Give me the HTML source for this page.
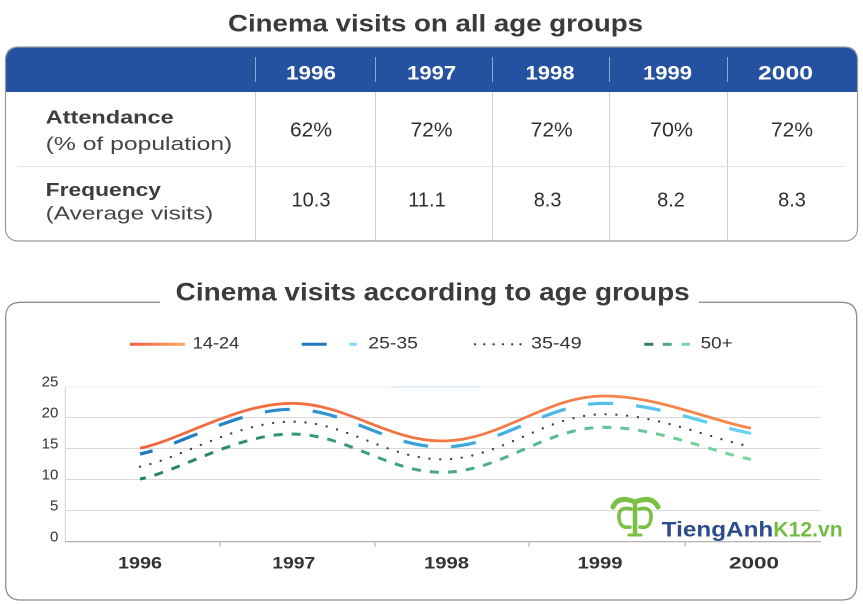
<!DOCTYPE html>
<html>
<head>
<meta charset="utf-8">
<style>
  html,body{margin:0;padding:0;background:#fff;}
  svg{display:block;}
  text{font-family:"Liberation Sans",Arial,sans-serif;}
</style>
</head>
<body>
<svg width="863" height="604" viewBox="0 0 863 604" xmlns="http://www.w3.org/2000/svg">
  <defs>
    <linearGradient id="gOr" gradientUnits="userSpaceOnUse" x1="140" y1="0" x2="751" y2="0">
      <stop offset="0" stop-color="#f2653f"/>
      <stop offset="1" stop-color="#f68a4b"/>
    </linearGradient>
    <linearGradient id="gBl" gradientUnits="userSpaceOnUse" x1="140" y1="0" x2="751" y2="0">
      <stop offset="0" stop-color="#1b76bd"/>
      <stop offset="0.5" stop-color="#3ca6df"/>
      <stop offset="1" stop-color="#66d3f3"/>
    </linearGradient>
    <linearGradient id="gGr" gradientUnits="userSpaceOnUse" x1="140" y1="0" x2="751" y2="0">
      <stop offset="0" stop-color="#22806a"/>
      <stop offset="0.5" stop-color="#44a984"/>
      <stop offset="1" stop-color="#7cd9a1"/>
    </linearGradient>
    <linearGradient id="gLegOr" gradientUnits="userSpaceOnUse" x1="130" y1="0" x2="185" y2="0">
      <stop offset="0" stop-color="#f05d46"/>
      <stop offset="1" stop-color="#f9aa5c"/>
    </linearGradient>
  </defs>

  <!-- Top title -->
  <text x="228" y="31.5" font-size="24" font-weight="bold" fill="#3a3a3a" textLength="415" lengthAdjust="spacingAndGlyphs">Cinema visits on all age groups</text>

  <!-- Table -->
  <path d="M5.5,92 L5.5,59 Q5.5,47 17.5,47 L845.5,47 Q857.5,47 857.5,59 L857.5,92 Z" fill="#2552a0"/>
  <g stroke="#8ea7d4" stroke-width="1">
    <line x1="255.5" y1="57" x2="255.5" y2="82"/>
    <line x1="375.5" y1="57" x2="375.5" y2="82"/>
    <line x1="492.5" y1="57" x2="492.5" y2="82"/>
    <line x1="609.5" y1="57" x2="609.5" y2="82"/>
    <line x1="727.5" y1="57" x2="727.5" y2="82"/>
  </g>
  <g stroke="#cfcfcf" stroke-width="1">
    <line x1="255.5" y1="92" x2="255.5" y2="241"/>
    <line x1="375.5" y1="92" x2="375.5" y2="241"/>
    <line x1="492.5" y1="92" x2="492.5" y2="241"/>
    <line x1="609.5" y1="92" x2="609.5" y2="241"/>
    <line x1="727.5" y1="92" x2="727.5" y2="241"/>
  </g>
  <line x1="18" y1="166.5" x2="845" y2="166.5" stroke="#e4e4e4" stroke-width="1"/>
  <rect x="5.5" y="47" width="852" height="194" rx="12" ry="12" fill="none" stroke="#9a9a9a" stroke-width="1.2"/>

  <g font-size="19" font-weight="bold" fill="#ffffff" text-anchor="middle">
    <text x="311" y="79.3" textLength="50" lengthAdjust="spacingAndGlyphs">1996</text>
    <text x="431.6" y="79.3" textLength="49" lengthAdjust="spacingAndGlyphs">1997</text>
    <text x="550" y="79.3" textLength="49" lengthAdjust="spacingAndGlyphs">1998</text>
    <text x="667.5" y="79.3" textLength="49" lengthAdjust="spacingAndGlyphs">1999</text>
    <text x="785.5" y="79.3" textLength="55" lengthAdjust="spacingAndGlyphs">2000</text>
  </g>

  <g fill="#3d3d3d">
    <text x="45.7" y="123.3" font-size="18" font-weight="bold" textLength="128" lengthAdjust="spacingAndGlyphs">Attendance</text>
    <text x="45.7" y="150" font-size="18" fill="#444" textLength="186.6" lengthAdjust="spacingAndGlyphs">(% of population)</text>
    <text x="45.7" y="196" font-size="18" font-weight="bold" textLength="115.3" lengthAdjust="spacingAndGlyphs">Frequency</text>
    <text x="45.7" y="219.5" font-size="18" fill="#444" textLength="167.6" lengthAdjust="spacingAndGlyphs">(Average visits)</text>
  </g>

  <g font-size="20" fill="#2f2f2f" text-anchor="middle">
    <text x="311" y="136.7" textLength="42" lengthAdjust="spacingAndGlyphs">62%</text>
    <text x="431.5" y="136.7" textLength="42" lengthAdjust="spacingAndGlyphs">72%</text>
    <text x="551.7" y="136.7" textLength="42" lengthAdjust="spacingAndGlyphs">72%</text>
    <text x="671.5" y="136.7" textLength="43" lengthAdjust="spacingAndGlyphs">70%</text>
    <text x="792" y="136.7" textLength="42" lengthAdjust="spacingAndGlyphs">72%</text>

    <text x="311" y="206.7">10.3</text>
    <text x="427" y="206.7">11.1</text>
    <text x="547.6" y="206.7">8.3</text>
    <text x="671" y="206.7">8.2</text>
    <text x="792" y="206.7">8.3</text>
  </g>

  <!-- Chart box -->
  <path d="M160,302.3 L20.7,302.3 Q5.7,302.3 5.7,317.3 L5.7,585 Q5.7,600 20.7,600 L841.7,600 Q856.7,600 856.7,585 L856.7,317.3 Q856.7,302.3 841.7,302.3 L699,302.3" fill="none" stroke="#8e8e8e" stroke-width="1.3"/>
  <text x="175.7" y="300.7" font-size="25" font-weight="bold" fill="#3b3b3b" textLength="514" lengthAdjust="spacingAndGlyphs">Cinema visits according to age groups</text>

  <!-- Legend -->
  <line x1="130" y1="344.3" x2="185" y2="344.3" stroke="url(#gLegOr)" stroke-width="3"/>
  <line x1="301.7" y1="344.3" x2="326.7" y2="344.3" stroke="#1f78bb" stroke-width="3"/>
  <line x1="349.3" y1="344.3" x2="356.7" y2="344.3" stroke="#7ed8f5" stroke-width="3"/>
  <g fill="#444">
    <circle cx="475" cy="344.3" r="1.2"/>
    <circle cx="484.3" cy="344.3" r="1.2"/>
    <circle cx="493.6" cy="344.3" r="1.2"/>
    <circle cx="502.9" cy="344.3" r="1.2"/>
    <circle cx="512.2" cy="344.3" r="1.2"/>
    <circle cx="520.5" cy="344.3" r="1.2"/>
  </g>
  <line x1="644.3" y1="344.3" x2="653.3" y2="344.3" stroke="#2f7d6a" stroke-width="3"/>
  <line x1="662.7" y1="344.3" x2="671.7" y2="344.3" stroke="#4aa882" stroke-width="3"/>
  <line x1="681.7" y1="344.3" x2="690" y2="344.3" stroke="#7cd8a0" stroke-width="3"/>
  <g font-size="17" fill="#333">
    <text x="192.7" y="348.3" textLength="46.6" lengthAdjust="spacingAndGlyphs">14-24</text>
    <text x="368.3" y="348.3" textLength="49.7" lengthAdjust="spacingAndGlyphs">25-35</text>
    <text x="531" y="348.3" textLength="50.7" lengthAdjust="spacingAndGlyphs">35-49</text>
    <text x="700.7" y="348.3" textLength="32" lengthAdjust="spacingAndGlyphs">50+</text>
  </g>

  <!-- Grid -->
  <line x1="65" y1="386.7" x2="821" y2="386.7" stroke="#efefef" stroke-width="1"/>
  <line x1="392" y1="386.7" x2="480" y2="386.7" stroke="#dcecf6" stroke-width="1.5"/>
  <g stroke="#d9d9d9" stroke-width="1">
    <line x1="65" y1="417.5" x2="821" y2="417.5"/>
    <line x1="65" y1="448.5" x2="821" y2="448.5"/>
    <line x1="65" y1="479.5" x2="821" y2="479.5"/>
    <line x1="65" y1="510.5" x2="821" y2="510.5"/>
  </g>
  <line x1="65.3" y1="386.7" x2="65.3" y2="541.7" stroke="#cfcfcf" stroke-width="1"/>
  <line x1="65" y1="541.7" x2="821" y2="541.7" stroke="#a8a8a8" stroke-width="1.2"/>
  <g stroke="#a8a8a8" stroke-width="1">
    <line x1="220" y1="541.7" x2="220" y2="546.7"/>
    <line x1="375" y1="541.7" x2="375" y2="546.7"/>
    <line x1="529" y1="541.7" x2="529" y2="546.7"/>
    <line x1="685" y1="541.7" x2="685" y2="546.7"/>
  </g>

  <g font-size="15" fill="#333" text-anchor="end">
    <text x="58.3" y="386.7">25</text>
    <text x="58.3" y="417.7">20</text>
    <text x="58.3" y="448.7">15</text>
    <text x="58.3" y="479.7">10</text>
    <text x="58.3" y="510.7">5</text>
    <text x="58.3" y="541.7">0</text>
  </g>

  <g font-size="17" font-weight="bold" fill="#333" text-anchor="middle">
    <text x="140" y="568.3" textLength="44" lengthAdjust="spacingAndGlyphs">1996</text>
    <text x="293.8" y="568.3" textLength="43" lengthAdjust="spacingAndGlyphs">1997</text>
    <text x="446.5" y="568.3" textLength="45" lengthAdjust="spacingAndGlyphs">1998</text>
    <text x="600" y="568.3" textLength="45" lengthAdjust="spacingAndGlyphs">1999</text>
    <text x="754" y="568.3" textLength="50" lengthAdjust="spacingAndGlyphs">2000</text>
  </g>

  <!-- Watermark logo -->
  <g fill="none" stroke="#79c043" stroke-linecap="round">
    <path d="M613,507 Q618,495 635,502 Q652,495 658,507" stroke-width="5"/>
    <path d="M635,503 L635,533" stroke-width="4.5"/>
    <path d="M631,509 Q618,506 619,518 Q620,529 630,527" stroke-width="3.5"/>
    <path d="M639,509 Q652,506 651,518 Q650,529 640,527" stroke-width="3.5"/>
    <path d="M629,535 L641,535" stroke-width="3"/>
  </g>
  <text x="661.7" y="536.7" font-size="21" font-weight="bold" fill="#2c4b8c" textLength="111.6" lengthAdjust="spacingAndGlyphs">TiengAnh</text>
  <text x="773.3" y="536.7" font-size="21" font-weight="bold" fill="#74bb44" textLength="69.4" lengthAdjust="spacingAndGlyphs">K12.vn</text>

  <!-- Series -->
  <path d="M140,479 C180,470.9 237,434 292,434 C346.5,434 387.5,472.3 442,472.3 C500.9,472.3 545.1,427.3 604,427.3 C657,427.3 710,451.3 751,459.3"
        fill="none" stroke="url(#gGr)" stroke-width="3" stroke-dasharray="9 9" stroke-dashoffset="3"/>
  <path d="M140,466.7 C180,458.6 237,421.7 292,421.7 C346.5,421.7 387.5,459.3 442,459.3 C500.9,459.3 545.1,414.3 604,414.3 C657,414.3 710,438.6 751,446.7"
        fill="none" stroke="#454545" stroke-width="2.4" stroke-linecap="round" stroke-dasharray="0 10.8"/>
  <path d="M140,454 C180,446 237,409.3 292,409.3 C346.5,409.3 387.5,447 442,447 C500.9,447 545.1,403.3 604,403.3 C657,403.3 710,425.8 751,433.3"
        fill="none" stroke="url(#gBl)" stroke-width="3.2" stroke-dasharray="25 23" stroke-dashoffset="12"/>
  <path d="M140,448.3 C180,440.2 237,403.3 292,403.3 C346.5,403.3 387.5,441 442,441 C500.9,441 545.1,396 604,396 C657,396 710,420.2 751,428.3"
        fill="none" stroke="url(#gOr)" stroke-width="2.8"/>
</svg>
</body>
</html>
